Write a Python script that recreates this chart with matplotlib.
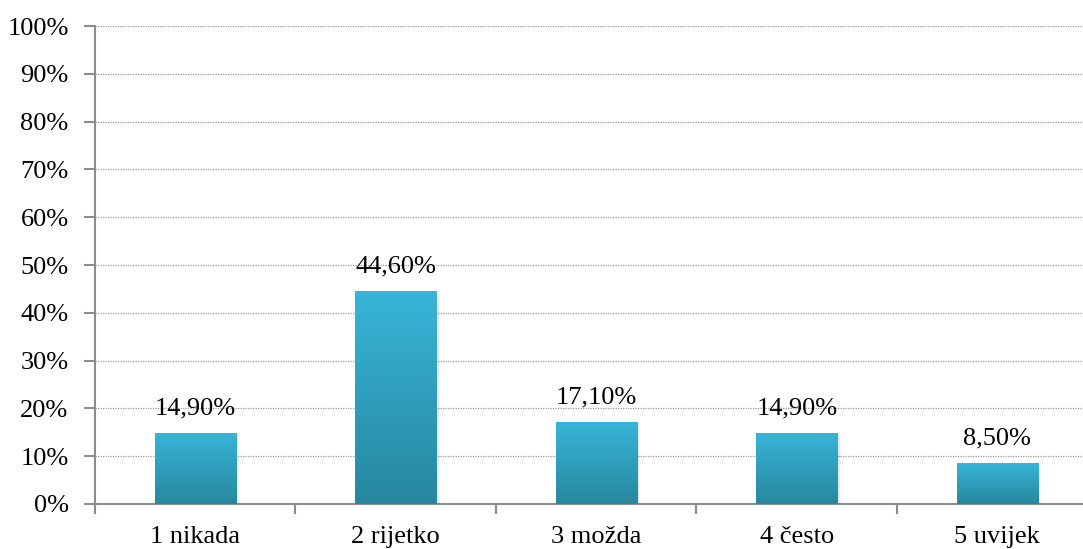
import numpy as np
import matplotlib.pyplot as plt
from matplotlib.patches import Rectangle
from matplotlib.colors import LinearSegmentedColormap

categories = ['1 nikada', '2 rijetko', '3 možda', '4 često', '5 uvijek']
values = [14.9, 44.6, 17.1, 14.9, 8.5]
labels = ['14,90%', '44,60%', '17,10%', '14,90%', '8,50%']
yticks = list(range(0, 101, 10))

plt.rcParams['font.family'] = ['Liberation Serif', 'DejaVu Serif']

fig = plt.figure(figsize=(10.83, 5.49), dpi=100)
ax = fig.add_axes([0.0877, 0.082, 0.9257, 0.8706])

x = np.arange(len(categories))
width = 0.404
bars = ax.bar(x, values, width=width, color='none', zorder=3)

# vertical gradient fill per bar, plus a soft shadow
cmap = LinearSegmentedColormap.from_list('g', ['#27879e', '#38b5d9'])
grad = np.linspace(0, 1, 256).reshape(-1, 1)
for b in bars:
    x0, y0 = b.get_x(), b.get_y()
    w, h = b.get_width(), b.get_height()
    for i, a in enumerate([0.10, 0.06, 0.03]):
        d = 0.006 * (i + 1)
        ax.add_patch(Rectangle((x0 + d, y0 - 0.3 * (i + 1)), w, h, color='black',
                               alpha=a, lw=0, zorder=2))
    im = ax.imshow(grad, extent=(x0, x0 + w, y0, y0 + h), origin='lower',
                   cmap=cmap, aspect='auto', zorder=3)
    im.set_clip_path(b)

for xi, v, lab in zip(x, values, labels):
    ax.text(xi, v + 2.85, lab, ha='center', va='bottom', fontsize=19, zorder=4)

ax.set_xlim(-0.5, len(categories) - 0.5)
ax.set_ylim(0, 100)
ax.set_yticks(yticks)
ax.set_yticklabels([f'{t}%' for t in yticks], fontsize=19)
ax.set_xticks(x)
ax.set_xticklabels(categories, fontsize=19)
ax.set_xticks(np.arange(-0.5, len(categories), 1), minor=True)
ax.tick_params(axis='x', which='major', length=0, pad=15.5)
ax.tick_params(axis='x', which='minor', length=7, width=1.5, color='#8c8c8c')
ax.tick_params(axis='y', length=8, width=1.5, color='#8c8c8c', pad=11)

ax.grid(axis='y', linestyle=(0, (1, 1)), color='#999999', linewidth=0.9, zorder=0)
ax.set_axisbelow(True)
for s in ['top', 'right']:
    ax.spines[s].set_visible(False)
for s in ['left', 'bottom']:
    ax.spines[s].set_color('#8c8c8c')
    ax.spines[s].set_linewidth(1.5)

fig.savefig('out.png', dpi=100)
